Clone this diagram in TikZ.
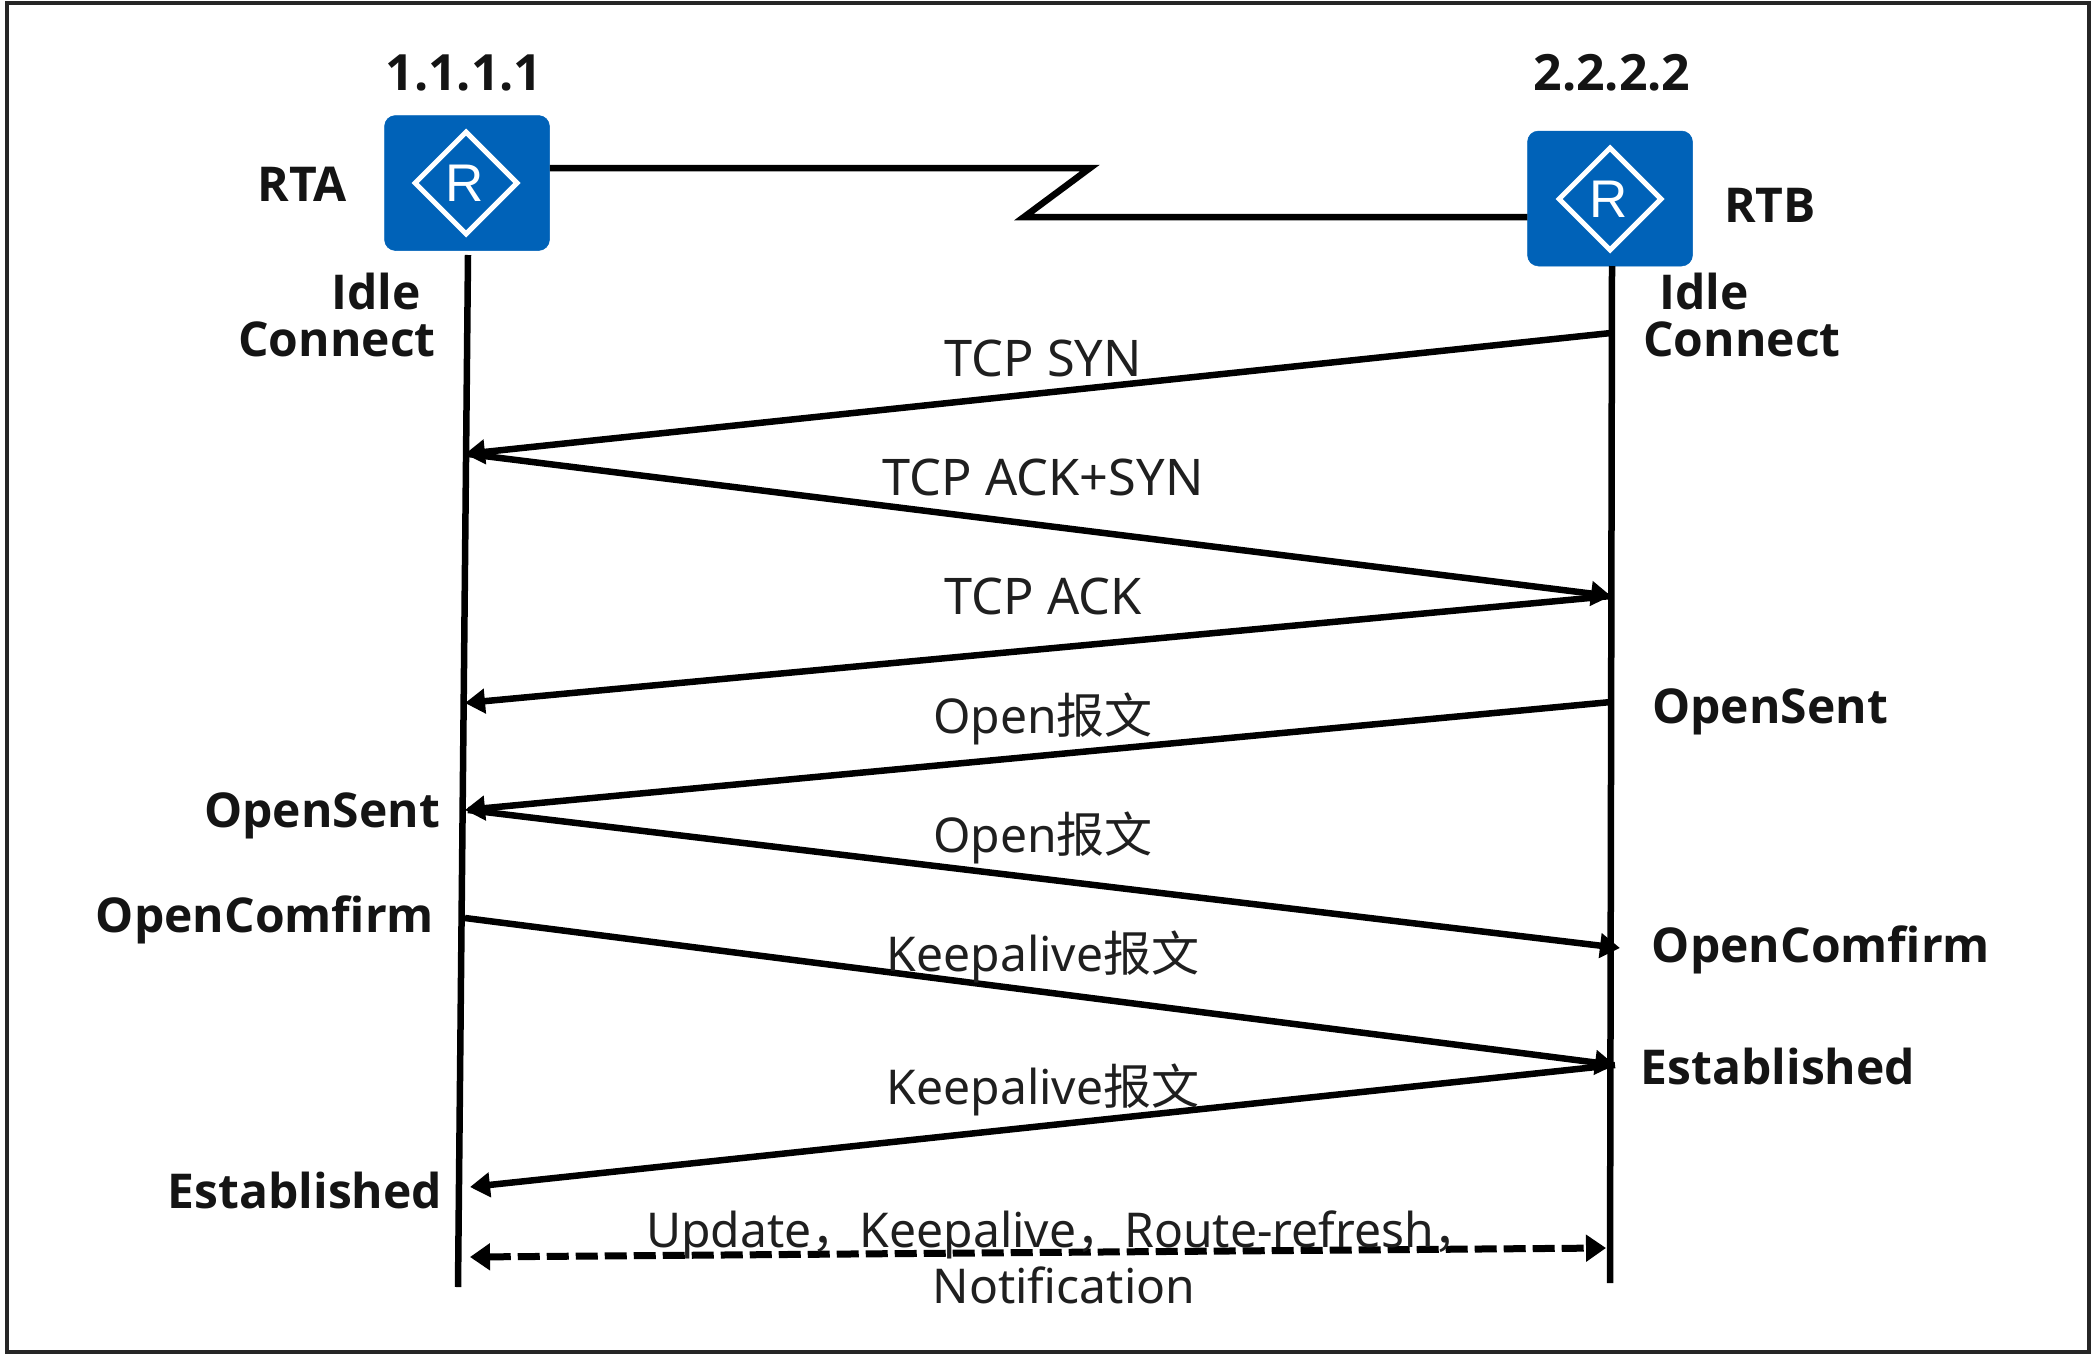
\documentclass[tikz,border=0pt]{standalone}
\usepackage{fontspec}
\setmainfont{Noto Sans}
\newfontfamily\cjk{Noto Sans CJK SC}
\newfontfamily\rfont{Liberation Sans}
\newfontfamily\bfont{Open Sans}
\usetikzlibrary{arrows.meta,shapes.geometric}
\definecolor{routerblue}{HTML}{0062B8}
\tikzset{
  x=1pt,y=-1pt,
  routerbox/.style={draw=routerblue,fill=routerblue,rounded corners=11pt,minimum width=165pt,minimum height=135pt,inner sep=0pt,line width=0.5pt},
  routermark/.style={diamond,draw=white,line width=5pt,minimum width=104pt,minimum height=104pt,inner sep=0pt,aspect=1,fill=none},
  routerletter/.style={text=white,font=\rfont\fontsize{53}{53}\selectfont,inner sep=0pt},
  boldlabel/.style={anchor=base,inner sep=0pt,font=\bfont\fontsize{48}{48}\selectfont\bfseries,text=black!92},
  iplabel/.style={anchor=base,inner sep=0pt,font=\bfont\fontsize{50}{50}\selectfont\bfseries,text=black!92},
  msglabel/.style={anchor=base,inner sep=0pt,font=\fontsize{48}{48}\selectfont,text=black!88},
  tcplabel/.style={anchor=base,inner sep=0pt,font=\fontsize{50.5}{51}\selectfont,text=black!88},
  lifeline/.style={line width=6.5pt,black},
  wire/.style={line width=6.5pt,black,line join=miter},
  msg/.style={line width=6.5pt,black,-{Triangle[length=20pt,width=24pt]}},
  bothway/.style={line width=7pt,black,dash pattern=on 22pt off 7pt,{Triangle[length=20pt,width=26pt]}-{Triangle[length=20pt,width=26pt]}},
}
\begin{document}
\begin{tikzpicture}
\useasboundingbox (0,0) rectangle (2096,1360);
\node[draw=black!85,line width=4pt,minimum width=2082pt,minimum height=1349pt,inner sep=0pt] (frame) at (1048,677) {};

% routers
\node[routerbox] (rta) at (467,183) {};
\node[routermark] (rtamark) at (466,183) {};
\node[routerletter] (rtar) at (465,183) {R};
\node[routerbox] (rtb) at (1610,198.5) {};
\node[routermark] (rtbmark) at (1610,199) {};
\node[routerletter] (rtbr) at (1609,199) {R};

% link between routers
\coordinate (linka) at (1090,168);
\coordinate (linkb) at (1024,217);
\draw[wire] (rta.east |- linka) -- (linka) -- (linkb) -- (rtb.west |- linkb);

% lifelines
\coordinate (ltop) at (468,255);
\coordinate (lbot) at (458,1287);
\coordinate (rtop) at (1612,266);
\coordinate (rbot) at (1610,1283);
\draw[lifeline] (ltop) -- (lbot);
\draw[lifeline] (rtop) -- (rbot);

% message ends
\coordinate (r1) at (1611,333);
\coordinate (l1) at (465,454);
\coordinate (l1s) at (468,454);
\coordinate (r2) at (1611,596);
\coordinate (l2) at (465,703);
\coordinate (r3) at (1611,702);
\coordinate (l3) at (465,810);
\coordinate (l3s) at (468,810);
\coordinate (r4) at (1620,948);
\coordinate (l4) at (465,918);
\coordinate (r5) at (1615,1065);
\coordinate (l5) at (470,1187);
\coordinate (l6) at (470,1257);
\coordinate (r6) at (1606,1248);

\draw[msg] (r1) -- (l1);
\draw[msg] (l1s) -- (r2);
\draw[msg] (r2) -- (l2);
\draw[msg] (r3) -- (l3);
\draw[msg] (l3s) -- (r4);
\draw[msg] (l4) -- (r5);
\draw[msg] (r5) -- (l5);
\draw[bothway] (l6) -- (r6);

% bold labels
\node[iplabel] (ipa) at (464,90) {1.1.1.1};
\node[iplabel] (ipb) at (1612,90) {2.2.2.2};
\node[boldlabel] (rtaname) at (302,201) {RTA};
\node[boldlabel] (rtbname) at (1770,222) {RTB};
\node[boldlabel] (idlel) at (376,309) {Idle};
\node[boldlabel] (connl) at (337,356) {Connect};
\node[boldlabel] (idler) at (1704,309) {Idle};
\node[boldlabel] (connr) at (1742,356) {Connect};
\node[boldlabel] (sentr) at (1770,723) {OpenSent};
\node[boldlabel] (sentl) at (322,827) {OpenSent};
\node[boldlabel] (confl) at (265,932) {OpenComfirm};
\node[boldlabel] (confr) at (1821,962) {OpenComfirm};
\node[boldlabel] (estr) at (1778,1084) {Established};
\node[boldlabel] (estl) at (305,1208) {Established};

% message labels
\node[tcplabel] (m1) at (1043,376) {TCP SYN};
\node[tcplabel] (m2) at (1043,495) {TCP ACK+SYN};
\node[tcplabel] (m3) at (1043,614) {TCP ACK};
\node[msglabel] (m4) at (1043,733) {Open{\cjk 报文}};
\node[msglabel] (m5) at (1043,852) {Open{\cjk 报文}};
\node[msglabel] (m6) at (1043,971) {Keepalive{\cjk 报文}};
\node[msglabel] (m7) at (1043,1104) {Keepalive{\cjk 报文}};
\node[msglabel] (m8) at (1064,1247) {Update{\cjk ，}Keepalive{\cjk ，}Route-refresh{\cjk ，}};
\node[msglabel] (m9) at (1064,1303) {Notification};
\end{tikzpicture}
\end{document}
